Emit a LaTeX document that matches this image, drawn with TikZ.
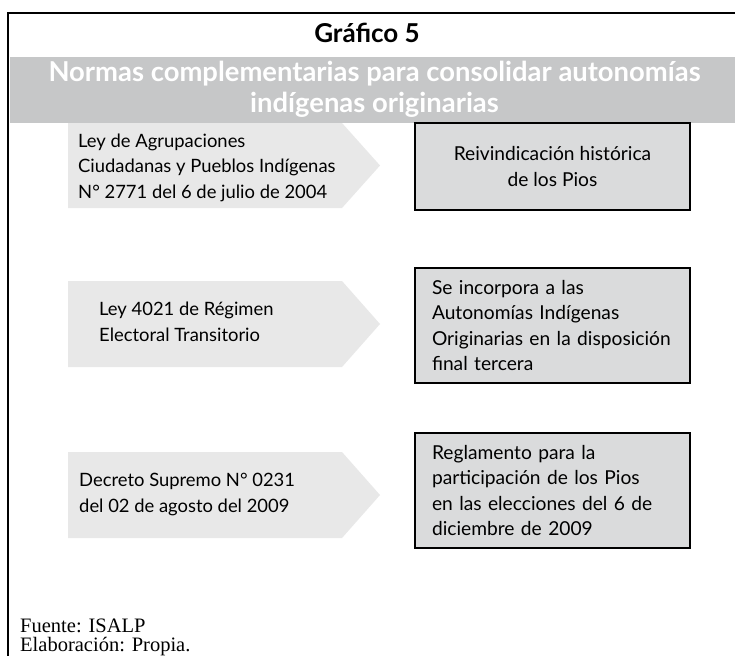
\documentclass[tikz,border=0pt]{standalone}
\usepackage{fontspec}
\setmainfont{Lato}
\newfontfamily\footfont{Liberation Serif}
\definecolor{bandgray}{RGB}{198,199,200}
\definecolor{arrowgray}{RGB}{232,232,232}
\definecolor{boxgray}{RGB}{218,219,220}
\tikzset{
  frameline/.style={line width=2.2pt, black},
  bodytext/.style={inner sep=0pt, align=left, font=\fontsize{18.4}{25.5}\selectfont},
  arrowshape/.style={fill=arrowgray},
  boxst/.style={draw=black, line width=2.2pt, fill=boxgray, minimum width=275pt, inner sep=0pt, font=\fontsize{19.2}{25.5}\selectfont},
  titletext/.style={inner sep=0pt, font=\bfseries\fontsize{26}{30}\selectfont},
  subtext/.style={inner sep=0pt, text=white, align=center, font=\bfseries\fontsize{27.4}{31}\selectfont},
  foottext/.style={inner sep=0pt, anchor=base west, font=\footfont\fontsize{20.5}{21}\selectfont}
}
\begin{document}
\begin{tikzpicture}[x=1pt,y=-1pt]
\useasboundingbox (0,0) rectangle (735,656);
\fill[white] (0,0) rectangle (735,656);
\fill[bandgray] (10,57) rectangle (735,123);
\draw[frameline] (735,13) -- (8,13) -- (8,656);
\node[titletext] (title) at (367,33) {Gráfico 5};
\node[subtext] (sub) at (374.5,89) {Normas complementarias para consolidar autonomías\\indígenas originarias};
% arrows
\fill[arrowshape] (68,123) -- (342,123) -- (380,165.5) -- (342,208) -- (68,208) -- cycle;
\fill[arrowshape] (68,281) -- (342,281) -- (380,324) -- (342,367) -- (68,367) -- cycle;
\fill[arrowshape] (68,452) -- (342,452) -- (380,495) -- (342,538) -- (68,538) -- cycle;
\node[bodytext, anchor=west] (a1) at (78,167.5) {Ley de Agrupaciones\\Ciudadanas y Pueblos Indígenas\\N° 2771 del 6 de julio de 2004};
\node[bodytext, anchor=west] (a2) at (99,322) {Ley 4021 de Régimen\\Electoral Transitorio};
\node[bodytext, anchor=west] (a3) at (79,494.5) {Decreto Supremo N° 0231\\del 02 de agosto del 2009};
% boxes
\node[boxst, minimum height=87pt, align=center] (b1) at (552.5,166.5) {Reivindicación histórica\\de los Pios};
\node[boxst, minimum height=115pt, text width=241pt, align=left] (b2) at (552.5,325.5) {Se incorpora a las\\Autonomías Indígenas\\Originarias en la disposición\\final tercera};
\node[boxst, minimum height=115pt, text width=241pt, align=left] (b3) at (552.5,490.5) {Reglamento para la\\participación de los Pios\\en las elecciones del 6 de\\diciembre de 2009};
% footer
\node[foottext] (f1) at (20,632) {Fuente: ISALP};
\node[foottext] (f2) at (20,651.5) {Elaboración: Propia.};
\end{tikzpicture}
\end{document}
